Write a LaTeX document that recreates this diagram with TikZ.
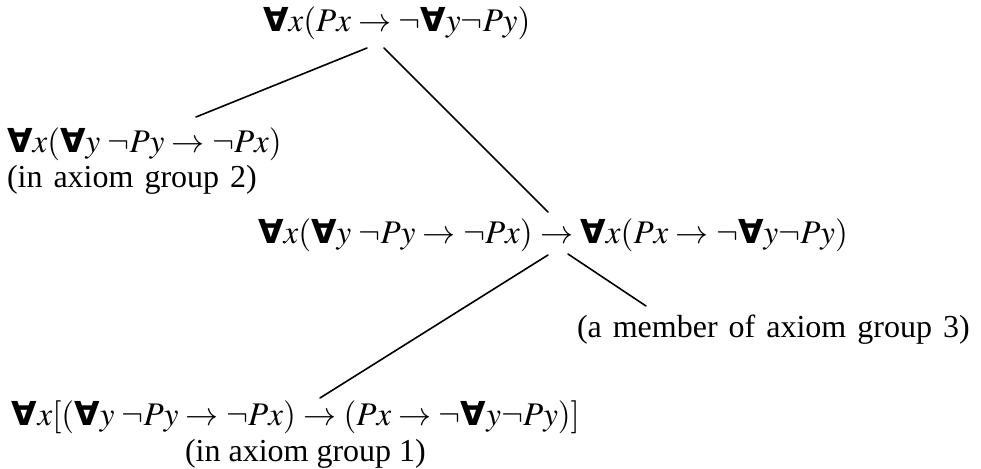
\documentclass[tikz,border=0pt]{standalone}
\usepackage{mathptmx}
\usepackage[no-math]{fontspec}
\setmainfont{Liberation Serif}
\newfontfamily\fafont{DejaVu Sans Bold}
\newcommand\FA{\mathord{\mbox{\fafont ∀}}}
\newcommand\notefont{\fontsize{32}{38}\selectfont\spaceskip=11pt\relax}
\tikzset{
  formula/.style={inner sep=0pt, outer sep=0pt, anchor=base west, font=\fontsize{33}{39}\selectfont},
  note/.style={inner sep=0pt, outer sep=0pt, anchor=base west, font=\notefont},
  link/.style={line width=1.6pt, line cap=round}
}
\begin{document}
\begin{tikzpicture}[x=1pt,y=-1pt]
\useasboundingbox (0,0) rectangle (981,468);
% nodes
\node[formula] (top) at (263,32) {$\FA x(Px\rightarrow\neg\FA y\neg Py)$};
\node[formula] (left) at (7,152) {$\FA x(\FA y\;\neg Py\rightarrow\neg Px)$};
\node[note] (leftnote) at (7,187) {(in axiom group 2)};
\node[formula] (mid) at (258,243) {$\FA x(\FA y\;\neg Py\rightarrow\neg Px)\rightarrow\FA x(Px\rightarrow\neg\FA y\neg Py)$};
\node[note] (midnote) at (577,337) {(a member of axiom group 3)};
\node[note, font=\fontsize{32}{38}\selectfont] (botnote) at (185,461) {(in axiom group 1)};
\node[formula] (bot) at (12,425) {$\FA x[(\FA y\;\neg Py\rightarrow\neg Px)\rightarrow(Px\rightarrow\neg\FA y\neg Py)]$};
% connector ends
\coordinate (topL) at (367,48);
\coordinate (topR) at (384,48);
\coordinate (leftE) at (196,117);
\coordinate (midT) at (548,212);
\coordinate (midL) at (548,255);
\coordinate (midR) at (568,254);
\coordinate (botE) at (320,398);
\coordinate (noteE) at (646,306);
\draw[link] (topL) -- (leftE);
\draw[link] (topR) -- (midT);
\draw[link] (midL) -- (botE);
\draw[link] (midR) -- (noteE);
\end{tikzpicture}
\end{document}
